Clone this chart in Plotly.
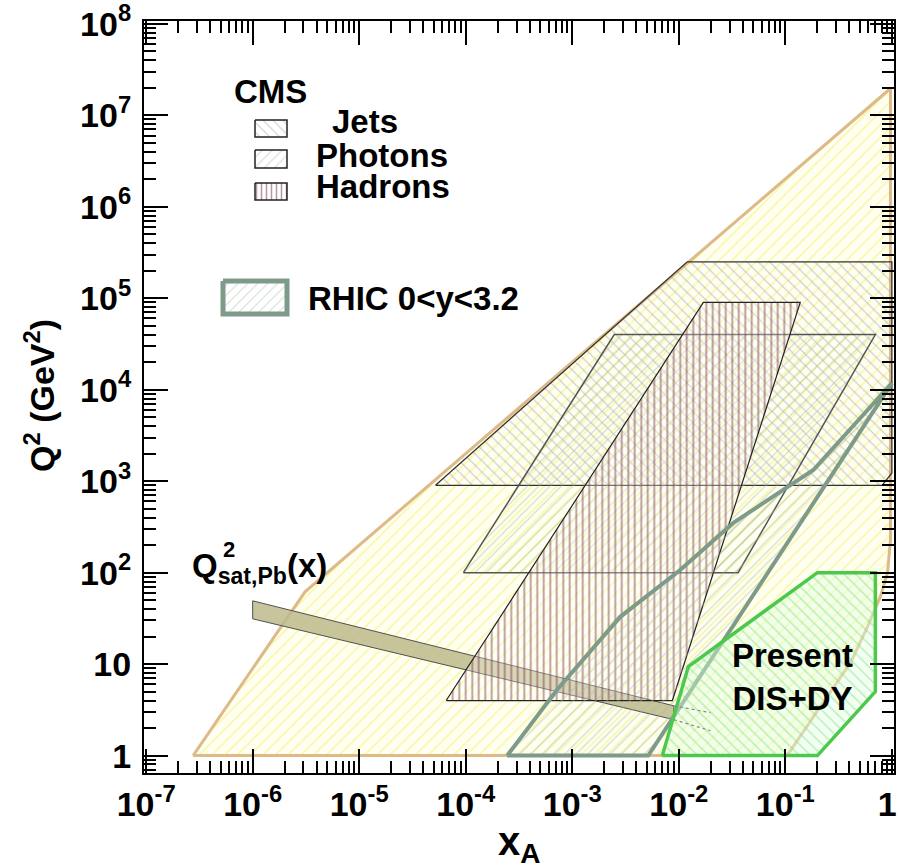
import plotly.graph_objects as go

# ---------------- data ----------------
# LHC p-Pb kinematic reach (yellow region)
lhc_x = [2.76e-7, 3.1e-6, 0.97, 0.97, 0.91, 0.78, 0.59, 0.41, 0.213, 0.104]
lhc_q2 = [1.0, 61.7, 1.96e7, 228, 99.5, 54.4, 25.6, 10.4, 3.43, 1.0]

# CMS jets
jets_x = [5.2e-5, 0.012, 1.0, 1.0, 0.81]
jets_q2 = [900, 2.5e5, 2.5e5, 1230, 900]

# CMS photons
pho_x = [9.5e-5, 2.48e-3, 0.70, 0.036]
pho_q2 = [100, 4.0e4, 4.0e4, 100]

# CMS hadrons
had_x = [6.56e-5, 0.017, 0.138, 0.0087]
had_q2 = [4.0, 9.0e4, 9.0e4, 4.0]

# RHIC 0<y<3.2
rhic_x = [2.45e-4, 7.2e-4, 2.82e-3, 0.0103, 0.0325, 0.183, 1.0, 5.17e-3]
rhic_q2 = [1.0, 5.25, 32.9, 107, 350, 1325, 1.18e4, 1.0]

# Saturation scale band Q^2_sat,Pb(x)
qsat_x = [1.0e-6, 0.009]
qsat_hi = [49.2, 3.5]
qsat_lo = [31.3, 2.47]
qsat_ext_x = [0.009, 0.0198]
qsat_ext_hi = [3.5, 2.95]
qsat_ext_lo = [2.47, 1.87]

# Present DIS + DY
dis_x = [0.007, 0.0123, 0.2, 0.70, 0.70, 0.2]
dis_q2 = [1.0, 9.4, 100, 100, 5.0, 1.0]

# axis ticks
x_ticks = [1e-7, 1e-6, 1e-5, 1e-4, 1e-3, 1e-2, 1e-1, 1]
x_labels = ["10<sup>-7</sup>", "10<sup>-6</sup>", "10<sup>-5</sup>", "10<sup>-4</sup>",
            "10<sup>-3</sup>", "10<sup>-2</sup>", "10<sup>-1</sup>", "1\u00a0"]
y_ticks = [1, 10, 1e2, 1e3, 1e4, 1e5, 1e6, 1e7, 1e8]
y_labels = ["1", "10", "10<sup>2</sup>", "10<sup>3</sup>", "10<sup>4</sup>",
            "10<sup>5</sup>", "10<sup>6</sup>", "10<sup>7</sup>", "10<sup>8</sup>"]

# ---------------- layout geometry ----------------
W, H = 900, 867
L, R, T, B = 144, 894, 21, 773
FONT = "Liberation Sans, Arial, sans-serif"


def px(xp):
    return (xp - L) / (R - L)


def py(yp):
    return (B - yp) / (B - T)


def closed(xs, ys):
    return list(xs) + [xs[0]], list(ys) + [ys[0]]


fig = go.Figure()

# LHC region
xs, ys = closed(lhc_x, lhc_q2)
fig.add_trace(go.Scatter(x=xs, y=ys, mode="lines", fill="toself",
                         line=dict(color="#DDBA88", width=3),
                         fillcolor="rgba(0,0,0,0)",
                         fillpattern=dict(shape="/", size=9, solidity=0.17,
                                          fgcolor="#F2EE50", bgcolor="rgba(255,255,215,0.35)"),
                         hoverinfo="skip", showlegend=False))

# Qsat band
bx = qsat_x + qsat_x[::-1]
by = qsat_hi + qsat_lo[::-1]
xs, ys = closed(bx, by)
fig.add_trace(go.Scatter(x=xs, y=ys, mode="lines", fill="toself",
                         line=dict(color="#505050", width=1),
                         fillcolor="rgba(190,186,140,0.85)",
                         hoverinfo="skip", showlegend=False))

# Jets
xs, ys = closed(jets_x, jets_q2)
fig.add_trace(go.Scatter(x=xs, y=ys, mode="lines", fill="toself",
                         line=dict(color="#333333", width=1.3),
                         fillcolor="rgba(0,0,0,0)",
                         fillpattern=dict(shape="\\", size=8, solidity=0.15,
                                          fgcolor="#A0A0B2", bgcolor="rgba(0,0,0,0)"),
                         hoverinfo="skip", showlegend=False))

# Photons
xs, ys = closed(pho_x, pho_q2)
fig.add_trace(go.Scatter(x=xs, y=ys, mode="lines", fill="toself",
                         line=dict(color="#555555", width=1.5),
                         fillcolor="rgba(0,0,0,0)",
                         fillpattern=dict(shape="/", size=8, solidity=0.15,
                                          fgcolor="#ACBC9C", bgcolor="rgba(0,0,0,0)"),
                         hoverinfo="skip", showlegend=False))

# Hadrons
xs, ys = closed(had_x, had_q2)
fig.add_trace(go.Scatter(x=xs, y=ys, mode="lines", fill="toself",
                         line=dict(color="#222222", width=1.2),
                         fillcolor="rgba(0,0,0,0)",
                         fillpattern=dict(shape="|", size=6.5, solidity=0.28,
                                          fgcolor="#74303F", bgcolor="rgba(255,255,255,0.3)"),
                         hoverinfo="skip", showlegend=False))

# RHIC
xs, ys = closed(rhic_x, rhic_q2)
fig.add_trace(go.Scatter(x=xs, y=ys, mode="lines", fill="toself",
                         line=dict(color="#7E9A88", width=4),
                         fillcolor="rgba(0,0,0,0)",
                         fillpattern=dict(shape="/", size=8, solidity=0.15,
                                          fgcolor="#A6BBA8", bgcolor="rgba(0,0,0,0)"),
                         hoverinfo="skip", showlegend=False))

# Present DIS + DY
xs, ys = closed(dis_x, dis_q2)
fig.add_trace(go.Scatter(x=xs, y=ys, mode="lines", fill="toself",
                         line=dict(color="#4CC94C", width=3.5),
                         fillcolor="rgba(0,0,0,0)",
                         fillpattern=dict(shape="\\", size=8, solidity=0.2,
                                          fgcolor="#86E486", bgcolor="rgba(225,255,225,0.4)"),
                         hoverinfo="skip", showlegend=False))

# dotted extension of the saturation band
for ye in (qsat_ext_hi, qsat_ext_lo):
    fig.add_trace(go.Scatter(x=qsat_ext_x, y=ye, mode="lines",
                             line=dict(color="#8A8A8A", width=1.2, dash="dot"),
                             hoverinfo="skip", showlegend=False))

# ---------------- legend keys (overlay axes in paper fractions) ----------------
def key(x0, y0, x1, y1, line, pattern, lw):
    xs = [px(x0), px(x1), px(x1), px(x0), px(x0)]
    ys = [py(y0), py(y0), py(y1), py(y1), py(y0)]
    fig.add_trace(go.Scatter(x=xs, y=ys, xaxis="x2", yaxis="y2", mode="lines",
                             fill="toself", fillcolor="rgba(0,0,0,0)",
                             line=dict(color=line, width=lw), fillpattern=pattern,
                             hoverinfo="skip", showlegend=False))


key(255, 120, 287, 137, "#222222",
    dict(shape="\\", size=7, solidity=0.15, fgcolor="#9898B0", bgcolor="white"), 1.5)
key(255, 150, 287, 168, "#222222",
    dict(shape="/", size=7, solidity=0.15, fgcolor="#A0B4A0", bgcolor="white"), 1.5)
key(255, 183, 287, 200, "#222222",
    dict(shape="|", size=5, solidity=0.3, fgcolor="#74303F", bgcolor="white"), 1.5)
key(223, 281, 287, 314, "#7E9A88",
    dict(shape="/", size=7, solidity=0.15, fgcolor="#A6BBA8", bgcolor="white"), 5)

# ---------------- text ----------------
def text(t, xp, yp, size=33, xanchor="left", yanchor="middle", angle=0):
    fig.add_annotation(x=px(xp), y=py(yp), xref="paper", yref="paper", text=t,
                       showarrow=False, xanchor=xanchor, yanchor=yanchor,
                       textangle=angle,
                       font=dict(family=FONT, size=size, color="black", weight="bold"))


text("CMS", 232, 91)
text("Jets", 330, 122)
text("Photons", 314, 155)
text("Hadrons", 314, 186)
text("RHIC 0&lt;y&lt;3.2", 306, 298)
text("Present<br>DIS+DY", 792, 677, xanchor="center")
text("Q<sub>sat,Pb</sub>(x)", 190, 568)
text("2", 221, 549, size=22)
# axis titles
text("x<sub>A</sub>", 519, 844, size=40, xanchor="center")
text("Q<sup>2</sup> (GeV<sup>2</sup>)", 39, 395, size=34, xanchor="center", angle=-90)

axis_font = dict(family=FONT, size=34, color="black", weight="bold")

minor_x = [m * 10.0 ** e for e in range(-8, 1) for m in range(2, 10)]
minor_y = [m * 10.0 ** e for e in range(-1, 9) for m in range(2, 10)]

fig.update_layout(
    width=W, height=H,
    margin=dict(l=L, r=W - R, t=T, b=H - B, autoexpand=False),
    paper_bgcolor="white", plot_bgcolor="white",
    showlegend=False,
    xaxis=dict(type="log", range=[-7.02, 0.02], showgrid=False, zeroline=False,
               automargin=False, ticklabeloverflow="allow",
               showline=True, linecolor="black", linewidth=2, mirror="allticks",
               ticks="inside", ticklen=24, tickwidth=1.5, tickcolor="black",
               tickvals=x_ticks, ticktext=x_labels, tickfont=axis_font,
               minor=dict(tickvals=minor_x, ticks="inside", ticklen=12,
                          tickwidth=1.5, tickcolor="black", showgrid=False)),
    yaxis=dict(type="log", range=[-0.19, 8.03], showgrid=False, zeroline=False,
               automargin=False, ticklabelstandoff=4, ticklabeloverflow="allow",
               showline=True, linecolor="black", linewidth=2, mirror="allticks",
               ticks="inside", ticklen=24, tickwidth=1.5, tickcolor="black",
               tickvals=y_ticks, ticktext=y_labels, tickfont=axis_font,
               minor=dict(tickvals=minor_y, ticks="inside", ticklen=12,
                          tickwidth=1.5, tickcolor="black", showgrid=False)),
    xaxis2=dict(overlaying="x", range=[0, 1], visible=False, fixedrange=True),
    yaxis2=dict(overlaying="y", range=[0, 1], visible=False, fixedrange=True),
)

fig.write_html("out.html", config={"displayModeBar": False},
               post_script="document.body.style.margin='0px';"
                           "document.body.style.overflow='hidden';")
